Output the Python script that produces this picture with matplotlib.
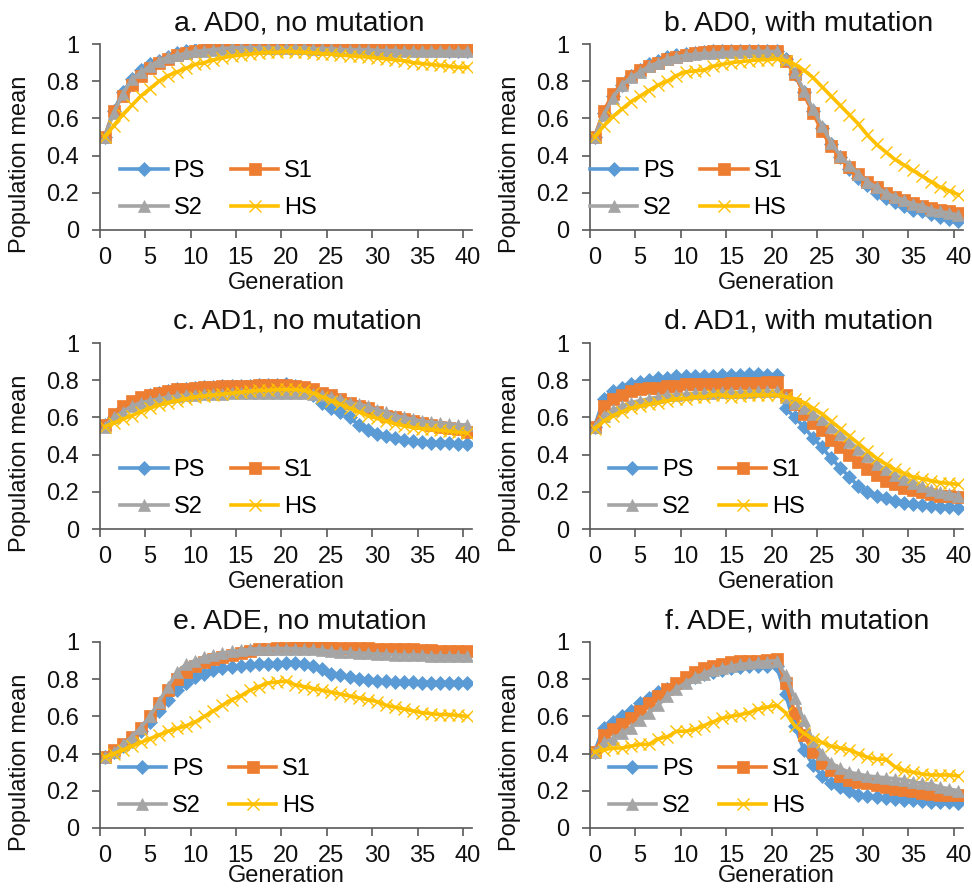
import matplotlib
matplotlib.use("Agg")
import matplotlib.pyplot as plt
import numpy as np

plt.rcParams['font.family'] = ['Liberation Sans', 'DejaVu Sans']

generations = list(range(41))
series_names = ["PS", "S1", "S2", "HS"]

# a. AD0, no mutation
a_PS = [0.50, 0.64, 0.74, 0.81, 0.86, 0.89, 0.91, 0.93, 0.95, 0.96, 0.97, 0.975, 0.98, 0.985, 0.99, 0.99, 0.99, 0.99, 0.99, 0.99, 0.99,
        0.99, 0.99, 0.99, 0.985, 0.985, 0.985, 0.98, 0.98, 0.98, 0.98, 0.975, 0.975, 0.975, 0.97, 0.97, 0.97, 0.97, 0.965, 0.965, 0.965]
a_S1 = [0.50, 0.64, 0.72, 0.78, 0.83, 0.87, 0.90, 0.92, 0.94, 0.95, 0.96, 0.97, 0.98, 0.985, 0.99, 0.99, 0.995, 0.995, 1.0, 1.0, 1.0,
        1.0, 1.0, 1.0, 1.0, 0.995, 0.995, 0.995, 0.99, 0.99, 0.99, 0.99, 0.99, 0.985, 0.985, 0.985, 0.985, 0.98, 0.98, 0.98, 0.98]
a_S2 = [0.50, 0.63, 0.73, 0.81, 0.85, 0.88, 0.91, 0.93, 0.94, 0.95, 0.96, 0.965, 0.97, 0.975, 0.98, 0.98, 0.98, 0.98, 0.98, 0.98, 0.98,
        0.98, 0.98, 0.975, 0.975, 0.975, 0.97, 0.97, 0.97, 0.97, 0.965, 0.965, 0.965, 0.96, 0.96, 0.96, 0.96, 0.96, 0.96, 0.96, 0.96]
a_HS = [0.50, 0.56, 0.62, 0.67, 0.72, 0.76, 0.80, 0.83, 0.85, 0.87, 0.89, 0.90, 0.915, 0.925, 0.935, 0.94, 0.945, 0.95, 0.955, 0.955, 0.96,
        0.958, 0.955, 0.952, 0.948, 0.945, 0.94, 0.937, 0.933, 0.93, 0.925, 0.92, 0.915, 0.91, 0.90, 0.895, 0.89, 0.885, 0.88, 0.875, 0.875]

# b. AD0, with mutation
b_PS = [0.50, 0.63, 0.72, 0.78, 0.83, 0.86, 0.89, 0.91, 0.93, 0.94, 0.945, 0.95, 0.955, 0.96, 0.96, 0.96, 0.96, 0.965, 0.965, 0.965, 0.965,
        0.92, 0.84, 0.74, 0.64, 0.55, 0.46, 0.39, 0.33, 0.28, 0.24, 0.20, 0.17, 0.15, 0.13, 0.11, 0.10, 0.085, 0.07, 0.06, 0.05]
b_S1 = [0.50, 0.64, 0.73, 0.79, 0.83, 0.86, 0.88, 0.90, 0.92, 0.93, 0.94, 0.95, 0.955, 0.96, 0.96, 0.96, 0.965, 0.965, 0.965, 0.965, 0.965,
        0.91, 0.84, 0.73, 0.63, 0.53, 0.45, 0.39, 0.34, 0.30, 0.26, 0.23, 0.20, 0.18, 0.16, 0.145, 0.13, 0.12, 0.11, 0.10, 0.09]
b_S2 = [0.50, 0.62, 0.71, 0.78, 0.82, 0.85, 0.88, 0.90, 0.92, 0.93, 0.94, 0.945, 0.95, 0.95, 0.955, 0.955, 0.955, 0.96, 0.96, 0.96, 0.96,
        0.92, 0.85, 0.75, 0.65, 0.56, 0.47, 0.40, 0.35, 0.30, 0.26, 0.23, 0.20, 0.18, 0.16, 0.14, 0.13, 0.11, 0.10, 0.09, 0.08]
b_HS = [0.50, 0.56, 0.61, 0.65, 0.69, 0.72, 0.75, 0.78, 0.80, 0.83, 0.85, 0.855, 0.86, 0.88, 0.89, 0.90, 0.905, 0.91, 0.915, 0.915, 0.92,
        0.91, 0.89, 0.86, 0.82, 0.77, 0.72, 0.67, 0.62, 0.57, 0.51, 0.46, 0.42, 0.38, 0.35, 0.32, 0.29, 0.26, 0.23, 0.21, 0.19]

# c. AD1, no mutation
c_PS = [0.56, 0.60, 0.65, 0.68, 0.70, 0.72, 0.73, 0.74, 0.75, 0.755, 0.76, 0.765, 0.765, 0.77, 0.77, 0.77, 0.77, 0.775, 0.775, 0.775, 0.78,
        0.77, 0.75, 0.72, 0.68, 0.65, 0.63, 0.60, 0.56, 0.53, 0.51, 0.50, 0.49, 0.48, 0.475, 0.47, 0.465, 0.46, 0.46, 0.455, 0.455]
c_S1 = [0.56, 0.62, 0.66, 0.69, 0.71, 0.72, 0.73, 0.74, 0.75, 0.755, 0.76, 0.765, 0.765, 0.77, 0.77, 0.77, 0.77, 0.775, 0.775, 0.775, 0.775,
        0.77, 0.765, 0.75, 0.73, 0.72, 0.70, 0.68, 0.66, 0.65, 0.63, 0.61, 0.60, 0.59, 0.58, 0.57, 0.56, 0.55, 0.545, 0.535, 0.52]
c_S2 = [0.55, 0.60, 0.63, 0.66, 0.68, 0.69, 0.70, 0.71, 0.715, 0.72, 0.72, 0.725, 0.725, 0.725, 0.73, 0.73, 0.73, 0.73, 0.73, 0.73, 0.73,
        0.73, 0.73, 0.725, 0.72, 0.71, 0.70, 0.68, 0.67, 0.66, 0.64, 0.63, 0.61, 0.60, 0.59, 0.58, 0.575, 0.57, 0.565, 0.56, 0.56]
c_HS = [0.55, 0.57, 0.59, 0.61, 0.63, 0.65, 0.665, 0.68, 0.69, 0.70, 0.71, 0.715, 0.72, 0.725, 0.73, 0.735, 0.74, 0.745, 0.745, 0.75, 0.75,
        0.75, 0.745, 0.73, 0.71, 0.69, 0.67, 0.65, 0.63, 0.61, 0.595, 0.58, 0.565, 0.555, 0.545, 0.54, 0.535, 0.53, 0.525, 0.52, 0.515]

# d. AD1, with mutation
d_PS = [0.55, 0.70, 0.74, 0.76, 0.78, 0.79, 0.80, 0.81, 0.81, 0.82, 0.82, 0.82, 0.82, 0.825, 0.83, 0.83, 0.83, 0.835, 0.835, 0.83, 0.83,
        0.65, 0.60, 0.55, 0.49, 0.44, 0.38, 0.33, 0.28, 0.23, 0.20, 0.18, 0.165, 0.15, 0.14, 0.135, 0.13, 0.125, 0.12, 0.12, 0.115]
d_S1 = [0.55, 0.66, 0.70, 0.72, 0.74, 0.75, 0.76, 0.76, 0.77, 0.77, 0.78, 0.78, 0.78, 0.78, 0.78, 0.785, 0.785, 0.785, 0.785, 0.79, 0.79,
        0.72, 0.67, 0.62, 0.57, 0.53, 0.48, 0.44, 0.40, 0.36, 0.32, 0.29, 0.26, 0.24, 0.22, 0.21, 0.20, 0.19, 0.18, 0.175, 0.17]
d_S2 = [0.55, 0.61, 0.64, 0.66, 0.68, 0.69, 0.70, 0.71, 0.72, 0.72, 0.725, 0.73, 0.73, 0.73, 0.735, 0.735, 0.735, 0.735, 0.74, 0.74, 0.74,
        0.71, 0.68, 0.65, 0.62, 0.59, 0.55, 0.51, 0.47, 0.43, 0.39, 0.35, 0.32, 0.29, 0.27, 0.25, 0.23, 0.21, 0.20, 0.19, 0.18]
d_HS = [0.54, 0.58, 0.61, 0.63, 0.65, 0.66, 0.67, 0.68, 0.69, 0.70, 0.70, 0.71, 0.71, 0.72, 0.72, 0.71, 0.715, 0.72, 0.72, 0.72, 0.72,
        0.71, 0.70, 0.68, 0.65, 0.62, 0.58, 0.54, 0.50, 0.46, 0.42, 0.38, 0.35, 0.32, 0.30, 0.28, 0.27, 0.26, 0.25, 0.245, 0.24]

# e. ADE, no mutation
e_PS = [0.38, 0.41, 0.44, 0.47, 0.52, 0.57, 0.63, 0.69, 0.74, 0.78, 0.81, 0.83, 0.85, 0.86, 0.865, 0.87, 0.875, 0.88, 0.88, 0.88, 0.885,
        0.885, 0.88, 0.87, 0.855, 0.83, 0.82, 0.81, 0.80, 0.795, 0.79, 0.79, 0.785, 0.785, 0.785, 0.78, 0.78, 0.78, 0.78, 0.78, 0.78]
e_S1 = [0.38, 0.42, 0.45, 0.49, 0.54, 0.60, 0.67, 0.74, 0.80, 0.84, 0.87, 0.89, 0.91, 0.92, 0.93, 0.94, 0.95, 0.96, 0.965, 0.97, 0.97,
        0.975, 0.975, 0.975, 0.975, 0.975, 0.97, 0.97, 0.97, 0.97, 0.965, 0.965, 0.96, 0.96, 0.96, 0.955, 0.955, 0.95, 0.95, 0.95, 0.95]
e_S2 = [0.38, 0.41, 0.45, 0.49, 0.54, 0.60, 0.68, 0.76, 0.84, 0.88, 0.90, 0.92, 0.93, 0.94, 0.95, 0.955, 0.96, 0.965, 0.965, 0.965, 0.965,
        0.965, 0.96, 0.96, 0.955, 0.95, 0.945, 0.945, 0.94, 0.94, 0.935, 0.935, 0.93, 0.93, 0.93, 0.93, 0.925, 0.925, 0.925, 0.925, 0.925]
e_HS = [0.38, 0.40, 0.42, 0.44, 0.46, 0.48, 0.50, 0.52, 0.535, 0.55, 0.57, 0.60, 0.63, 0.66, 0.69, 0.71, 0.74, 0.76, 0.78, 0.785, 0.79,
        0.77, 0.76, 0.75, 0.74, 0.73, 0.72, 0.71, 0.70, 0.69, 0.68, 0.66, 0.65, 0.64, 0.63, 0.62, 0.615, 0.61, 0.61, 0.605, 0.60]

# f. ADE, with mutation
f_PS = [0.41, 0.54, 0.57, 0.60, 0.63, 0.67, 0.70, 0.73, 0.75, 0.77, 0.79, 0.81, 0.83, 0.84, 0.85, 0.86, 0.865, 0.87, 0.87, 0.87, 0.87,
        0.72, 0.55, 0.42, 0.34, 0.28, 0.24, 0.22, 0.20, 0.18, 0.17, 0.165, 0.16, 0.155, 0.15, 0.15, 0.145, 0.14, 0.14, 0.14, 0.135]
f_S1 = [0.41, 0.50, 0.53, 0.56, 0.59, 0.63, 0.67, 0.71, 0.75, 0.78, 0.81, 0.84, 0.86, 0.87, 0.88, 0.89, 0.90, 0.90, 0.90, 0.905, 0.91,
        0.78, 0.62, 0.50, 0.41, 0.35, 0.31, 0.28, 0.26, 0.25, 0.24, 0.23, 0.22, 0.21, 0.205, 0.20, 0.19, 0.185, 0.18, 0.18, 0.18]
f_S2 = [0.41, 0.46, 0.48, 0.51, 0.54, 0.58, 0.62, 0.66, 0.71, 0.75, 0.78, 0.81, 0.83, 0.85, 0.86, 0.87, 0.88, 0.885, 0.89, 0.895, 0.90,
        0.82, 0.70, 0.58, 0.47, 0.40, 0.35, 0.32, 0.30, 0.29, 0.28, 0.275, 0.27, 0.265, 0.26, 0.25, 0.24, 0.235, 0.22, 0.21, 0.20]
f_HS = [0.41, 0.42, 0.43, 0.43, 0.44, 0.45, 0.45, 0.48, 0.49, 0.52, 0.52, 0.53, 0.55, 0.57, 0.59, 0.60, 0.61, 0.62, 0.64, 0.65, 0.66,
        0.62, 0.55, 0.51, 0.48, 0.46, 0.44, 0.43, 0.42, 0.40, 0.38, 0.37, 0.37, 0.33, 0.31, 0.30, 0.29, 0.285, 0.285, 0.285, 0.28]

panel_titles = ["a. AD0, no mutation", "b. AD0, with mutation",
                "c. AD1, no mutation", "d. AD1, with mutation",
                "e. ADE, no mutation", "f. ADE, with mutation"]
panel_data = [
    [a_PS, a_S1, a_S2, a_HS],
    [b_PS, b_S1, b_S2, b_HS],
    [c_PS, c_S1, c_S2, c_HS],
    [d_PS, d_S1, d_S2, d_HS],
    [e_PS, e_S1, e_S2, e_HS],
    [f_PS, f_S1, f_S2, f_HS],
]
y_ticks = [0, 0.2, 0.4, 0.6, 0.8, 1]
y_tick_labels = ["0", "0.2", "0.4", "0.6", "0.8", "1"]
x_ticks = [0, 5, 10, 15, 20, 25, 30, 35, 40]

colors = ["#5B9BD5", "#ED7D31", "#A5A5A5", "#FFC000"]
markers = ["D", "s", "^", "x"]
msizes = [7.0, 8.0, 8.5, 8.0]

W, H = 972, 889
fig = plt.figure(figsize=(W / 100, H / 100), dpi=100)

# axes pixel boxes
col_x = [(100, 472), (590, 963)]
row_y = [(44, 230), (343, 529), (642, 828)]
title_off = [0.035, 0.06, 0.03, 0.06, 0.038, 0.055]
legend_x = [0.055, 0.0, 0.055, 0.05, 0.05, 0.05]

fs = 17
axis_col = "#595959"
txt_col = "#111111"
for i in range(6):
    r, c = divmod(i, 2)
    x0, x1 = col_x[c]
    y0, y1 = row_y[r]
    ax = fig.add_axes([x0 / W, 1 - y1 / H, (x1 - x0) / W, (y1 - y0) / H])
    lines = []
    for k in range(4):
        ln, = ax.plot(generations, panel_data[i][k], color=colors[k], lw=2.6,
                      marker=markers[k], ms=msizes[k], mew=1.0 if markers[k] == "x" else 0.5,
                      mec=colors[k], mfc=colors[k], label=series_names[k])
        lines.append(ln)
    ax.set_xlim(-0.5, 40.5)
    ax.set_ylim(0, 1)
    for s in ["top", "right"]:
        ax.spines[s].set_visible(False)
    for s in ["left", "bottom"]:
        ax.spines[s].set_color(axis_col)
        ax.spines[s].set_linewidth(1.2)
    ax.set_yticks(y_ticks)
    ax.set_yticklabels(y_tick_labels)
    ax.set_xticks(x_ticks)
    ax.set_xticklabels([str(t) for t in x_ticks])
    ax.set_xticks([t - 0.5 for t in x_ticks], minor=True)
    ax.tick_params(axis="x", which="major", length=0, pad=12, labelsize=fs, labelcolor=txt_col)
    ax.tick_params(axis="x", which="minor", length=6, width=1.2, color=axis_col, direction="out")
    ax.tick_params(axis="y", which="major", length=6, width=1.2, color=axis_col, pad=9,
                   labelsize=fs, labelcolor=txt_col)
    ax.text(0.5 + title_off[i], 1.0 + 21 / 186, panel_titles[i], transform=ax.transAxes,
            ha="center", va="center", fontsize=20.5, color=txt_col)
    gen_y = -0.285 if r < 2 else -0.258
    ax.text(0.5, gen_y, "Generation", transform=ax.transAxes, ha="center", va="center",
            fontsize=fs, color=txt_col)
    ax.text(-0.215, 0.355, "Population mean", transform=ax.transAxes, ha="center", va="center",
            rotation=90, fontsize=fs, color=txt_col)
    order = [0, 2, 1, 3]  # row-major fill: PS S1 / S2 HS
    ax.legend([lines[j] for j in order], [series_names[j] for j in order],
              ncol=2, loc="upper left", bbox_to_anchor=(legend_x[i], 0.375),
              frameon=False, fontsize=fs, handlelength=2.0, handletextpad=0.25,
              columnspacing=1.1, labelspacing=0.62, borderaxespad=0.0, borderpad=0.0)

fig.savefig("out.png", dpi=100)
